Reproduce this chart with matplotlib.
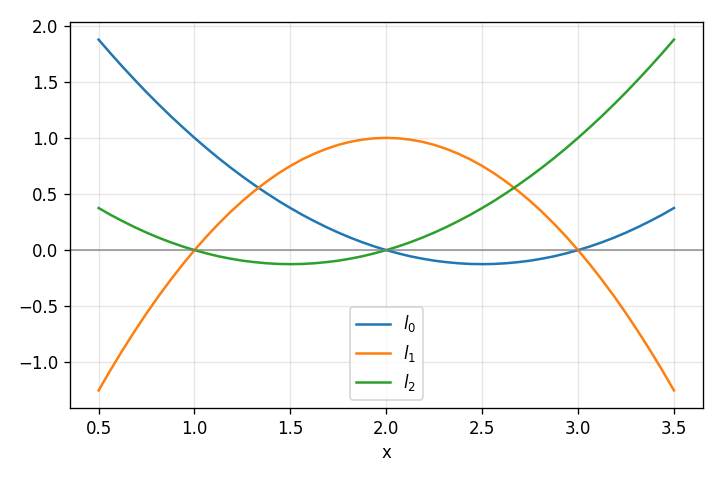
import matplotlib
matplotlib.use("Agg")
import matplotlib.pyplot as plt

# sample points along x (step 0.0625)
x = [0.5 + 0.0625 * i for i in range(49)]

l0 = [1.875, 1.752, 1.633, 1.518, 1.406, 1.299, 1.195, 1.096, 1.0,
      0.908, 0.820, 0.736, 0.656, 0.580, 0.508, 0.439, 0.375,
      0.314, 0.258, 0.205, 0.156, 0.111, 0.070, 0.033, 0.0,
      -0.029, -0.055, -0.076, -0.094, -0.107, -0.117, -0.123, -0.125,
      -0.123, -0.117, -0.107, -0.094, -0.076, -0.055, -0.029, 0.0,
      0.033, 0.070, 0.111, 0.156, 0.205, 0.258, 0.314, 0.375]

l1 = [-1.25, -1.066, -0.891, -0.723, -0.5625, -0.410, -0.266, -0.129, 0.0,
      0.121, 0.234, 0.340, 0.4375, 0.527, 0.609, 0.684, 0.75,
      0.809, 0.859, 0.902, 0.9375, 0.965, 0.984, 0.996, 1.0,
      0.996, 0.984, 0.965, 0.9375, 0.902, 0.859, 0.809, 0.75,
      0.684, 0.609, 0.527, 0.4375, 0.340, 0.234, 0.121, 0.0,
      -0.129, -0.266, -0.410, -0.5625, -0.723, -0.891, -1.066, -1.25]

l2 = [0.375, 0.314, 0.258, 0.205, 0.156, 0.111, 0.070, 0.033, 0.0,
      -0.029, -0.055, -0.076, -0.094, -0.107, -0.117, -0.123, -0.125,
      -0.123, -0.117, -0.107, -0.094, -0.076, -0.055, -0.029, 0.0,
      0.033, 0.070, 0.111, 0.156, 0.205, 0.258, 0.314, 0.375,
      0.439, 0.508, 0.580, 0.656, 0.736, 0.820, 0.908, 1.0,
      1.096, 1.195, 1.299, 1.406, 1.518, 1.633, 1.752, 1.875]

labels = [r"$l_0$", r"$l_1$", r"$l_2$"]

fig, ax = plt.subplots(figsize=(6, 4), dpi=120)

for ys, lab in zip([l0, l1, l2], labels):
    ax.plot(x, ys, label=lab, linewidth=1.5)

ax.axhline(0, color="gray", linewidth=1.0, alpha=0.8)
ax.grid(True, alpha=0.3)
ax.set_xlabel("x")
ax.legend(loc="lower center")

fig.subplots_adjust(left=0.097, right=0.976, top=0.954, bottom=0.15)
fig.savefig("out.png", dpi=120)
